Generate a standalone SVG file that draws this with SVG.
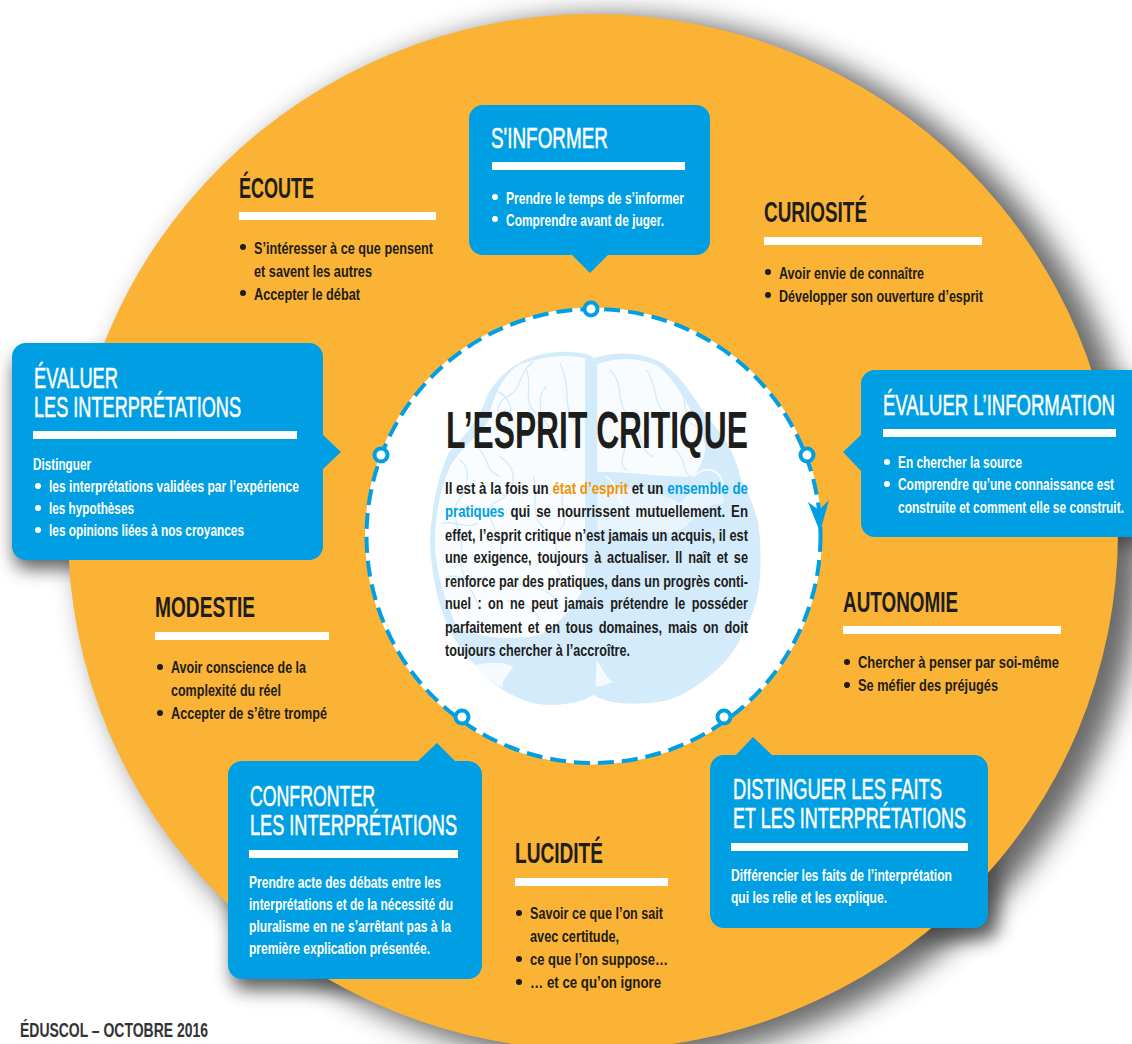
<svg xmlns="http://www.w3.org/2000/svg" width="1132" height="1044" viewBox="0 0 1132 1044">
<style>
text{font-family:"Liberation Sans Narrow","Liberation Sans",Arial,sans-serif;}
.box{fill:#009fe3;}
.hd{font-size:29px;font-weight:700;fill:#1d1d1b;}
.hw{font-size:29px;fill:#fff;stroke:#fff;stroke-width:.55px;}
.b{font-size:16.5px;font-weight:700;fill:#1d1d1b;}
.bw{font-size:16.5px;font-weight:700;fill:#fff;}
.p{font-size:17px;font-weight:700;fill:#1d1d1b;}
.o{fill:#f39200;}
.c{fill:#009fe3;}
.barw{fill:#fff;}
.dd{fill:#1d1d1b;}
.dw{fill:#fff;}
.ring{fill:#fff;stroke:#009fe3;stroke-width:4;}
</style>
<defs>
<filter id="sh" x="-10%" y="-10%" width="120%" height="120%"><feGaussianBlur stdDeviation="14"/></filter>
<filter id="sh2" x="-20%" y="-20%" width="140%" height="140%"><feGaussianBlur stdDeviation="9"/></filter>
</defs>
<rect width="1132" height="1044" fill="#fff"/>
<g id="shadows">
<ellipse cx="612" cy="540" rx="531" ry="524" fill="#5a5a5a" filter="url(#sh)" opacity=".9"/>
<g fill="#444" filter="url(#sh2)" opacity=".85">
<rect x="14" y="355" width="310" height="214" rx="14"/>
<rect x="232" y="772" width="254" height="218" rx="14"/>
<rect x="716" y="765" width="282" height="174" rx="14"/>
<rect x="866" y="380" width="280" height="166" rx="14"/>
</g>
</g>
<ellipse id="disc" cx="593" cy="532" rx="525" ry="518" fill="#fab334"/>
<g id="centre-disc">
<circle cx="593.5" cy="536" r="228.5" fill="#fff"/>
<g id="brain" transform="translate(360 290) scale(.33333)">
<path fill="#d3ebfb" d="M690 195C650 185 600 180 540 195C470 210 410 260 380 320C360 390 310 440 265 490C235 560 215 640 210 760C215 840 225 900 245 960C270 1040 310 1090 350 1130C390 1180 450 1220 520 1240C580 1250 650 1245 700 1215C750 1245 830 1245 900 1235C970 1225 1040 1170 1090 1120C1130 1080 1170 1000 1190 930C1205 860 1205 780 1195 700C1180 640 1160 600 1140 560C1130 500 1090 430 1040 380C1000 320 960 250 900 215C850 190 770 180 700 205Z"/>
<g fill="#fff" opacity=".88">
<path d="M675 205C620 190 540 200 475 225C420 265 395 330 385 395C340 450 290 490 270 530C235 610 222 700 225 780C232 860 255 930 290 1010C370 1050 470 1050 540 1035C600 1000 655 940 675 880Z"/>
<path d="M712 222C780 198 850 205 900 232C950 280 985 340 1010 400C1040 450 1050 490 1000 560C900 560 800 545 712 545Z"/>
</g>
<path fill="#fff" opacity=".5" d="M712 600C800 590 900 600 960 640C1020 560 1100 590 1090 640C1020 640 1000 700 960 720C880 740 800 720 712 720Z"/>
<g fill="none" stroke="#d3ebfb" stroke-width="4" stroke-linecap="round" stroke-linejoin="round">
<path d="M692 205C690 350 695 500 692 760" stroke-width="14"/>
<path d="M520 215C470 250 490 300 440 320C390 350 430 400 400 420M400 300C460 320 470 380 420 420M500 240C520 300 480 340 540 380C590 410 560 470 620 480M600 220C640 300 600 350 650 400M560 290C520 320 560 360 530 400"/>
<path d="M300 510C340 540 320 600 290 640C270 700 320 740 300 800C300 860 340 900 360 960M420 500C480 540 470 610 400 640C360 680 440 740 420 800M350 470C390 500 370 540 420 560M245 700C290 690 320 720 350 700M260 860C300 850 330 880 380 860"/>
<path d="M520 560C540 620 500 680 560 720C620 760 560 830 620 880M470 880C520 900 560 880 600 950M440 930C480 950 510 930 540 990M620 600C580 640 640 680 600 720"/>
<path d="M750 240C800 290 760 340 810 380C860 420 820 470 880 500M860 240C900 300 870 340 930 380M930 470C990 500 960 560 1000 560M780 440C820 480 760 510 800 540M950 280C990 330 960 390 1010 410"/>
<path d="M740 560C790 600 760 640 820 670M1000 560C1040 520 1090 540 1090 600M1010 590C1050 570 1060 600 1040 620" stroke="#fff"/>
</g>
<path fill="#fff" opacity=".75" d="M340 1125C370 1120 420 1110 460 1130C440 1160 420 1180 430 1195C400 1180 360 1150 340 1125ZM710 1110C725 1130 740 1170 760 1175C735 1185 720 1190 706 1190Z"/>
</g>
</g>
<g id="connectors">
<circle cx="593.5" cy="536" r="227" fill="none" stroke="#009fe3" stroke-width="4" stroke-dasharray="16 8"/>
<polygon fill="#009fe3" points="808,502 819,510 829,500 820,532"/>
<circle class="ring" cx="591" cy="309" r="6.5"/>
<circle class="ring" cx="381" cy="455" r="6.5"/>
<circle class="ring" cx="807" cy="455" r="6.5"/>
<circle class="ring" cx="462" cy="717" r="6.5"/>
<circle class="ring" cx="724" cy="717" r="6.5"/>
</g>
<g id="title">
<text x="446" y="448" font-size="52" font-weight="700" fill="#1d1d1b" textLength="302" lengthAdjust="spacingAndGlyphs">L’ESPRIT CRITIQUE</text>
<text class="p" x="445" y="494" textLength="303" lengthAdjust="spacingAndGlyphs">Il est à la fois un <tspan class="o">état d’esprit</tspan> et un <tspan class="c">ensemble de</tspan></text>
<text class="p" x="445" y="517" style="word-spacing:3px" textLength="303" lengthAdjust="spacingAndGlyphs"><tspan class="c">pratiques</tspan> qui se nourrissent mutuellement. En</text>
<text class="p" x="445" y="541" textLength="303" lengthAdjust="spacingAndGlyphs">effet, l’esprit critique n’est jamais un acquis, il est</text>
<text class="p" x="445" y="563" style="word-spacing:3px" textLength="303" lengthAdjust="spacingAndGlyphs">une exigence, toujours à actualiser. Il naît et se</text>
<text class="p" x="445" y="587" textLength="303" lengthAdjust="spacingAndGlyphs">renforce par des pratiques, dans un progrès conti-</text>
<text class="p" x="445" y="609" style="word-spacing:4px" textLength="303" lengthAdjust="spacingAndGlyphs">nuel : on ne peut jamais prétendre le posséder</text>
<text class="p" x="445" y="633" style="word-spacing:3px" textLength="303" lengthAdjust="spacingAndGlyphs">parfaitement et en tous domaines, mais on doit</text>
<text class="p" x="445" y="656" textLength="185" lengthAdjust="spacingAndGlyphs">toujours chercher à l’accroître.</text>
</g>
<g id="s-informer">
<path class="box" d="M483 105H696a14 14 0 0 1 14 14V241a14 14 0 0 1-14 14H608L590 273L572 255H483a14 14 0 0 1-14-14V119a14 14 0 0 1 14-14Z"/>
<text class="hw" x="491" y="148" textLength="117" lengthAdjust="spacingAndGlyphs">S'INFORMER</text>
<rect class="barw" x="492" y="162" width="193" height="8"/>
<circle class="dw" cx="495" cy="197" r="3"/><circle class="dw" cx="495" cy="219" r="3"/>
<text class="bw" x="506" y="204" textLength="178" lengthAdjust="spacingAndGlyphs">Prendre le temps de s’informer</text>
<text class="bw" x="506" y="226" textLength="158" lengthAdjust="spacingAndGlyphs">Comprendre avant de juger.</text>
</g>
<g id="ecoute">
<text class="hd" x="239" y="198" textLength="75" lengthAdjust="spacingAndGlyphs">ÉCOUTE</text>
<rect class="barw" x="239" y="212" width="197" height="8"/>
<circle class="dd" cx="243" cy="247" r="3"/><circle class="dd" cx="243" cy="293" r="3"/>
<text class="b" x="254" y="254" textLength="179" lengthAdjust="spacingAndGlyphs">S’intéresser à ce que pensent</text>
<text class="b" x="254" y="277" textLength="118" lengthAdjust="spacingAndGlyphs">et savent les autres</text>
<text class="b" x="254" y="300" textLength="106" lengthAdjust="spacingAndGlyphs">Accepter le débat</text>
</g>
<g id="curiosite">
<text class="hd" x="764" y="222" textLength="103" lengthAdjust="spacingAndGlyphs">CURIOSITÉ</text>
<rect class="barw" x="764" y="237" width="218" height="8"/>
<circle class="dd" cx="768" cy="272" r="3"/><circle class="dd" cx="768" cy="295" r="3"/>
<text class="b" x="779" y="279" textLength="145" lengthAdjust="spacingAndGlyphs">Avoir envie de connaître</text>
<text class="b" x="779" y="302" textLength="204" lengthAdjust="spacingAndGlyphs">Développer son ouverture d’esprit</text>
</g>
<g id="evaluer-interpretations">
<path class="box" d="M26 343H309a14 14 0 0 1 14 14V435L341 452L323 469V546a14 14 0 0 1-14 14H26a14 14 0 0 1-14-14V357a14 14 0 0 1 14-14Z"/>
<text class="hw" x="34" y="388" textLength="84" lengthAdjust="spacingAndGlyphs">ÉVALUER</text>
<text class="hw" x="34" y="417" textLength="207" lengthAdjust="spacingAndGlyphs">LES INTERPRÉTATIONS</text>
<rect class="barw" x="33" y="431" width="264" height="8"/>
<text class="bw" x="33" y="470" textLength="58" lengthAdjust="spacingAndGlyphs">Distinguer</text>
<circle class="dw" cx="38" cy="486" r="3"/><circle class="dw" cx="38" cy="508" r="3"/><circle class="dw" cx="38" cy="530" r="3"/>
<text class="bw" x="49" y="492" textLength="250" lengthAdjust="spacingAndGlyphs">les interprétations validées par l’expérience</text>
<text class="bw" x="49" y="514" textLength="85" lengthAdjust="spacingAndGlyphs">les hypothèses</text>
<text class="bw" x="49" y="536" textLength="195" lengthAdjust="spacingAndGlyphs">les opinions liées à nos croyances</text>
</g>
<g id="evaluer-information">
<path class="box" d="M875 370H1132V537H875a14 14 0 0 1-14-14V471L843 452L861 435V384a14 14 0 0 1 14-14Z"/>
<text class="hw" x="883" y="415" textLength="232" lengthAdjust="spacingAndGlyphs">ÉVALUER L’INFORMATION</text>
<rect class="barw" x="883" y="429" width="233" height="8"/>
<circle class="dw" cx="887" cy="462" r="3"/><circle class="dw" cx="887" cy="484" r="3"/>
<text class="bw" x="898" y="468" textLength="124" lengthAdjust="spacingAndGlyphs">En chercher la source</text>
<text class="bw" x="898" y="490" textLength="216" lengthAdjust="spacingAndGlyphs">Comprendre qu’une connaissance est</text>
<text class="bw" x="898" y="513" textLength="226" lengthAdjust="spacingAndGlyphs">construite et comment elle se construit.</text>
</g>
<g id="autonomie">
<text class="hd" x="843" y="612" textLength="115" lengthAdjust="spacingAndGlyphs">AUTONOMIE</text>
<rect class="barw" x="843" y="626" width="218" height="8"/>
<circle class="dd" cx="847" cy="662" r="3"/><circle class="dd" cx="847" cy="685" r="3"/>
<text class="b" x="858" y="668" textLength="201" lengthAdjust="spacingAndGlyphs">Chercher à penser par soi-même</text>
<text class="b" x="858" y="691" textLength="140" lengthAdjust="spacingAndGlyphs">Se méfier des préjugés</text>
</g>
<g id="modestie">
<text class="hd" x="155" y="617" textLength="100" lengthAdjust="spacingAndGlyphs">MODESTIE</text>
<rect class="barw" x="155" y="632" width="174" height="8"/>
<circle class="dd" cx="160" cy="667" r="3"/><circle class="dd" cx="160" cy="713" r="3"/>
<text class="b" x="171" y="673" textLength="135" lengthAdjust="spacingAndGlyphs">Avoir conscience de la</text>
<text class="b" x="171" y="696" textLength="110" lengthAdjust="spacingAndGlyphs">complexité du réel</text>
<text class="b" x="171" y="719" textLength="156" lengthAdjust="spacingAndGlyphs">Accepter de s’être trompé</text>
</g>
<g id="confronter">
<path class="box" d="M242 761H418L437 743L455 761H468a14 14 0 0 1 14 14V965a14 14 0 0 1-14 14H242a14 14 0 0 1-14-14V775a14 14 0 0 1 14-14Z"/>
<text class="hw" x="250" y="806" textLength="125" lengthAdjust="spacingAndGlyphs">CONFRONTER</text>
<text class="hw" x="250" y="835" textLength="207" lengthAdjust="spacingAndGlyphs">LES INTERPRÉTATIONS</text>
<rect class="barw" x="249" y="850" width="209" height="8"/>
<text class="bw" x="249" y="888" textLength="192" lengthAdjust="spacingAndGlyphs">Prendre acte des débats entre les</text>
<text class="bw" x="249" y="910" textLength="204" lengthAdjust="spacingAndGlyphs">interprétations et de la nécessité du</text>
<text class="bw" x="249" y="932" textLength="202" lengthAdjust="spacingAndGlyphs">pluralisme en ne s’arrêtant pas à la</text>
<text class="bw" x="249" y="954" textLength="181" lengthAdjust="spacingAndGlyphs">première explication présentée.</text>
</g>
<g id="distinguer">
<path class="box" d="M724 755H736L753 737L772 755H974a14 14 0 0 1 14 14V914a14 14 0 0 1-14 14H724a14 14 0 0 1-14-14V769a14 14 0 0 1 14-14Z"/>
<text class="hw" x="733" y="799" textLength="209" lengthAdjust="spacingAndGlyphs">DISTINGUER LES FAITS</text>
<text class="hw" x="733" y="828" textLength="233" lengthAdjust="spacingAndGlyphs">ET LES INTERPRÉTATIONS</text>
<rect class="barw" x="731" y="843" width="237" height="8"/>
<text class="bw" x="731" y="881" textLength="221" lengthAdjust="spacingAndGlyphs">Différencier les faits de l’interprétation</text>
<text class="bw" x="731" y="903" textLength="156" lengthAdjust="spacingAndGlyphs">qui les relie et les explique.</text>
</g>
<g id="lucidite">
<text class="hd" x="515" y="863" textLength="88" lengthAdjust="spacingAndGlyphs">LUCIDITÉ</text>
<rect class="barw" x="515" y="878" width="153" height="8"/>
<circle class="dd" cx="519" cy="913" r="3"/><circle class="dd" cx="519" cy="959" r="3"/><circle class="dd" cx="519" cy="982" r="3"/>
<text class="b" x="530" y="919" textLength="133" lengthAdjust="spacingAndGlyphs">Savoir ce que l’on sait</text>
<text class="b" x="530" y="942" textLength="89" lengthAdjust="spacingAndGlyphs">avec certitude,</text>
<text class="b" x="530" y="965" textLength="138" lengthAdjust="spacingAndGlyphs">ce que l’on suppose…</text>
<text class="b" x="530" y="988" textLength="131" lengthAdjust="spacingAndGlyphs">… et ce qu’on ignore</text>
</g>
<text id="credit" x="20" y="1037" font-size="21" font-weight="700" fill="#333" textLength="188" lengthAdjust="spacingAndGlyphs">ÉDUSCOL – OCTOBRE 2016</text>
</svg>
